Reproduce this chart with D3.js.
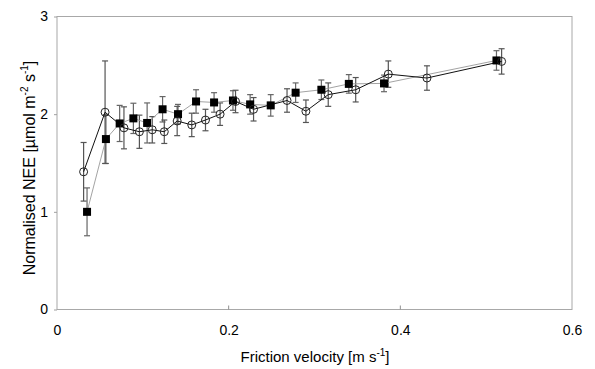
<!DOCTYPE html>
<html><head><meta charset="utf-8">
<script src="https://cdn.jsdelivr.net/npm/d3@7"></script>
<style>body{margin:0;background:#fff}svg{display:block}text{font-family:"Liberation Sans",Arial,sans-serif;fill:#000}</style>
</head><body><svg id="c" width="595" height="369"></svg>
<script>
// Open circles (solid black line)
const circleX = [0.031,0.056,0.078,0.096,0.111,0.125,0.140,0.157,0.173,0.190,0.208,0.229,0.268,0.290,0.316,0.348,0.386,0.431,0.518];
const circleY = [1.41,2.02,1.86,1.82,1.84,1.82,1.93,1.89,1.94,2.00,2.13,2.05,2.14,2.03,2.20,2.25,2.41,2.37,2.54];
const circleErr = [0.30,0.525,0.215,0.17,0.135,0.12,0.15,0.12,0.11,0.115,0.115,0.12,0.12,0.115,0.12,0.125,0.135,0.125,0.13];
// Filled squares (thin grey line)
const squareX = [0.035,0.057,0.073,0.089,0.105,0.123,0.141,0.162,0.183,0.205,0.225,0.249,0.278,0.308,0.340,0.381,0.512];
const squareY = [1.00,1.745,1.905,1.957,1.91,2.05,2.00,2.13,2.12,2.14,2.10,2.09,2.22,2.25,2.31,2.315,2.55];
const squareErr = [0.245,0.25,0.185,0.155,0.205,0.13,0.10,0.12,0.10,0.10,0.10,0.11,0.10,0.10,0.095,0.085,0.10];
const xTicks = [0,0.2,0.4,0.6];
const yTicks = [0,1,2,3];

const svg = d3.select("#c");
const x = d3.scaleLinear().domain([0,0.6]).range([57,572]);
const y = d3.scaleLinear().domain([0,3]).range([309.5,16.5]);

// frame
svg.append("rect").attr("x",57).attr("y",16.5).attr("width",515).attr("height",293)
  .attr("fill","none").attr("stroke","#a8a8a8").attr("stroke-width",1);

// x axis (ticks inside)
const xa = svg.append("g").attr("transform","translate(0,309.5)")
  .call(d3.axisBottom(x).tickValues(xTicks).tickSize(0).tickPadding(16).tickFormat(d=>d===0?"0":d3.format(".1f")(d)));
xa.select(".domain").remove();
xa.selectAll("text").attr("font-size",14).attr("font-family","Liberation Sans, Arial, sans-serif");
xa.selectAll(".tk").data(xTicks.filter(d=>d>0&&d<0.6)).enter().append("line")
  .attr("x1",d=>x(d)).attr("x2",d=>x(d)).attr("y1",0).attr("y2",-4).attr("stroke","#909090");

// y axis (ticks outside)
const ya = svg.append("g").attr("transform","translate(57,0)")
  .call(d3.axisLeft(y).tickValues(yTicks).tickSize(3).tickPadding(6).tickFormat(d3.format("d")));
ya.select(".domain").remove();
ya.selectAll("line").attr("stroke","#a0a0a0");
ya.selectAll("text").attr("font-size",14).attr("font-family","Liberation Sans, Arial, sans-serif");

// labels
const xl = svg.append("text").attr("x",315).attr("y",362).attr("text-anchor","middle").attr("font-size",15);
xl.append("tspan").text("Friction velocity [m s");
xl.append("tspan").attr("font-size",10).attr("dy",-6).text("-1");
xl.append("tspan").attr("dy",6).text("]");

const yl = svg.append("text").attr("transform","translate(35,168) rotate(-90)").attr("text-anchor","middle").attr("font-size",16);
yl.append("tspan").text("Normalised NEE [µmol m");
yl.append("tspan").attr("font-size",10).attr("dy",-7).text("-2");
yl.append("tspan").attr("dy",7).text(" s");
yl.append("tspan").attr("font-size",10).attr("dy",-7).text("-1");
yl.append("tspan").attr("dy",7).text("]");

const circles = circleX.map((v,i)=>({x:v,y:circleY[i],e:circleErr[i]}));
const squares = squareX.map((v,i)=>({x:v,y:squareY[i],e:squareErr[i]}));

function errBars(data, color){
  const g = svg.append("g").attr("stroke",color).attr("stroke-width",1.2);
  data.forEach(d=>{
    g.append("line").attr("x1",x(d.x)).attr("x2",x(d.x)).attr("y1",y(d.y-d.e)).attr("y2",y(d.y+d.e));
    g.append("line").attr("x1",x(d.x)-3).attr("x2",x(d.x)+3).attr("y1",y(d.y-d.e)).attr("y2",y(d.y-d.e));
    g.append("line").attr("x1",x(d.x)-3).attr("x2",x(d.x)+3).attr("y1",y(d.y+d.e)).attr("y2",y(d.y+d.e));
  });
}
errBars(squares,"#666");
errBars(circles,"#555");

const line = d3.line().x(d=>x(d.x)).y(d=>y(d.y));
svg.append("path").datum(squares).attr("d",line).attr("fill","none").attr("stroke","#999").attr("stroke-width",0.9);
svg.append("path").datum(circles).attr("d",line).attr("fill","none").attr("stroke","#111").attr("stroke-width",1);

svg.append("g").selectAll("rect").data(squares).enter().append("rect")
  .attr("x",d=>x(d.x)-4).attr("y",d=>y(d.y)-4).attr("width",8).attr("height",8).attr("fill","#000");
svg.append("g").selectAll("circle").data(circles).enter().append("circle")
  .attr("cx",d=>x(d.x)).attr("cy",d=>y(d.y)).attr("r",4).attr("fill","none").attr("stroke","#222").attr("stroke-width",1);
</script></body></html>
